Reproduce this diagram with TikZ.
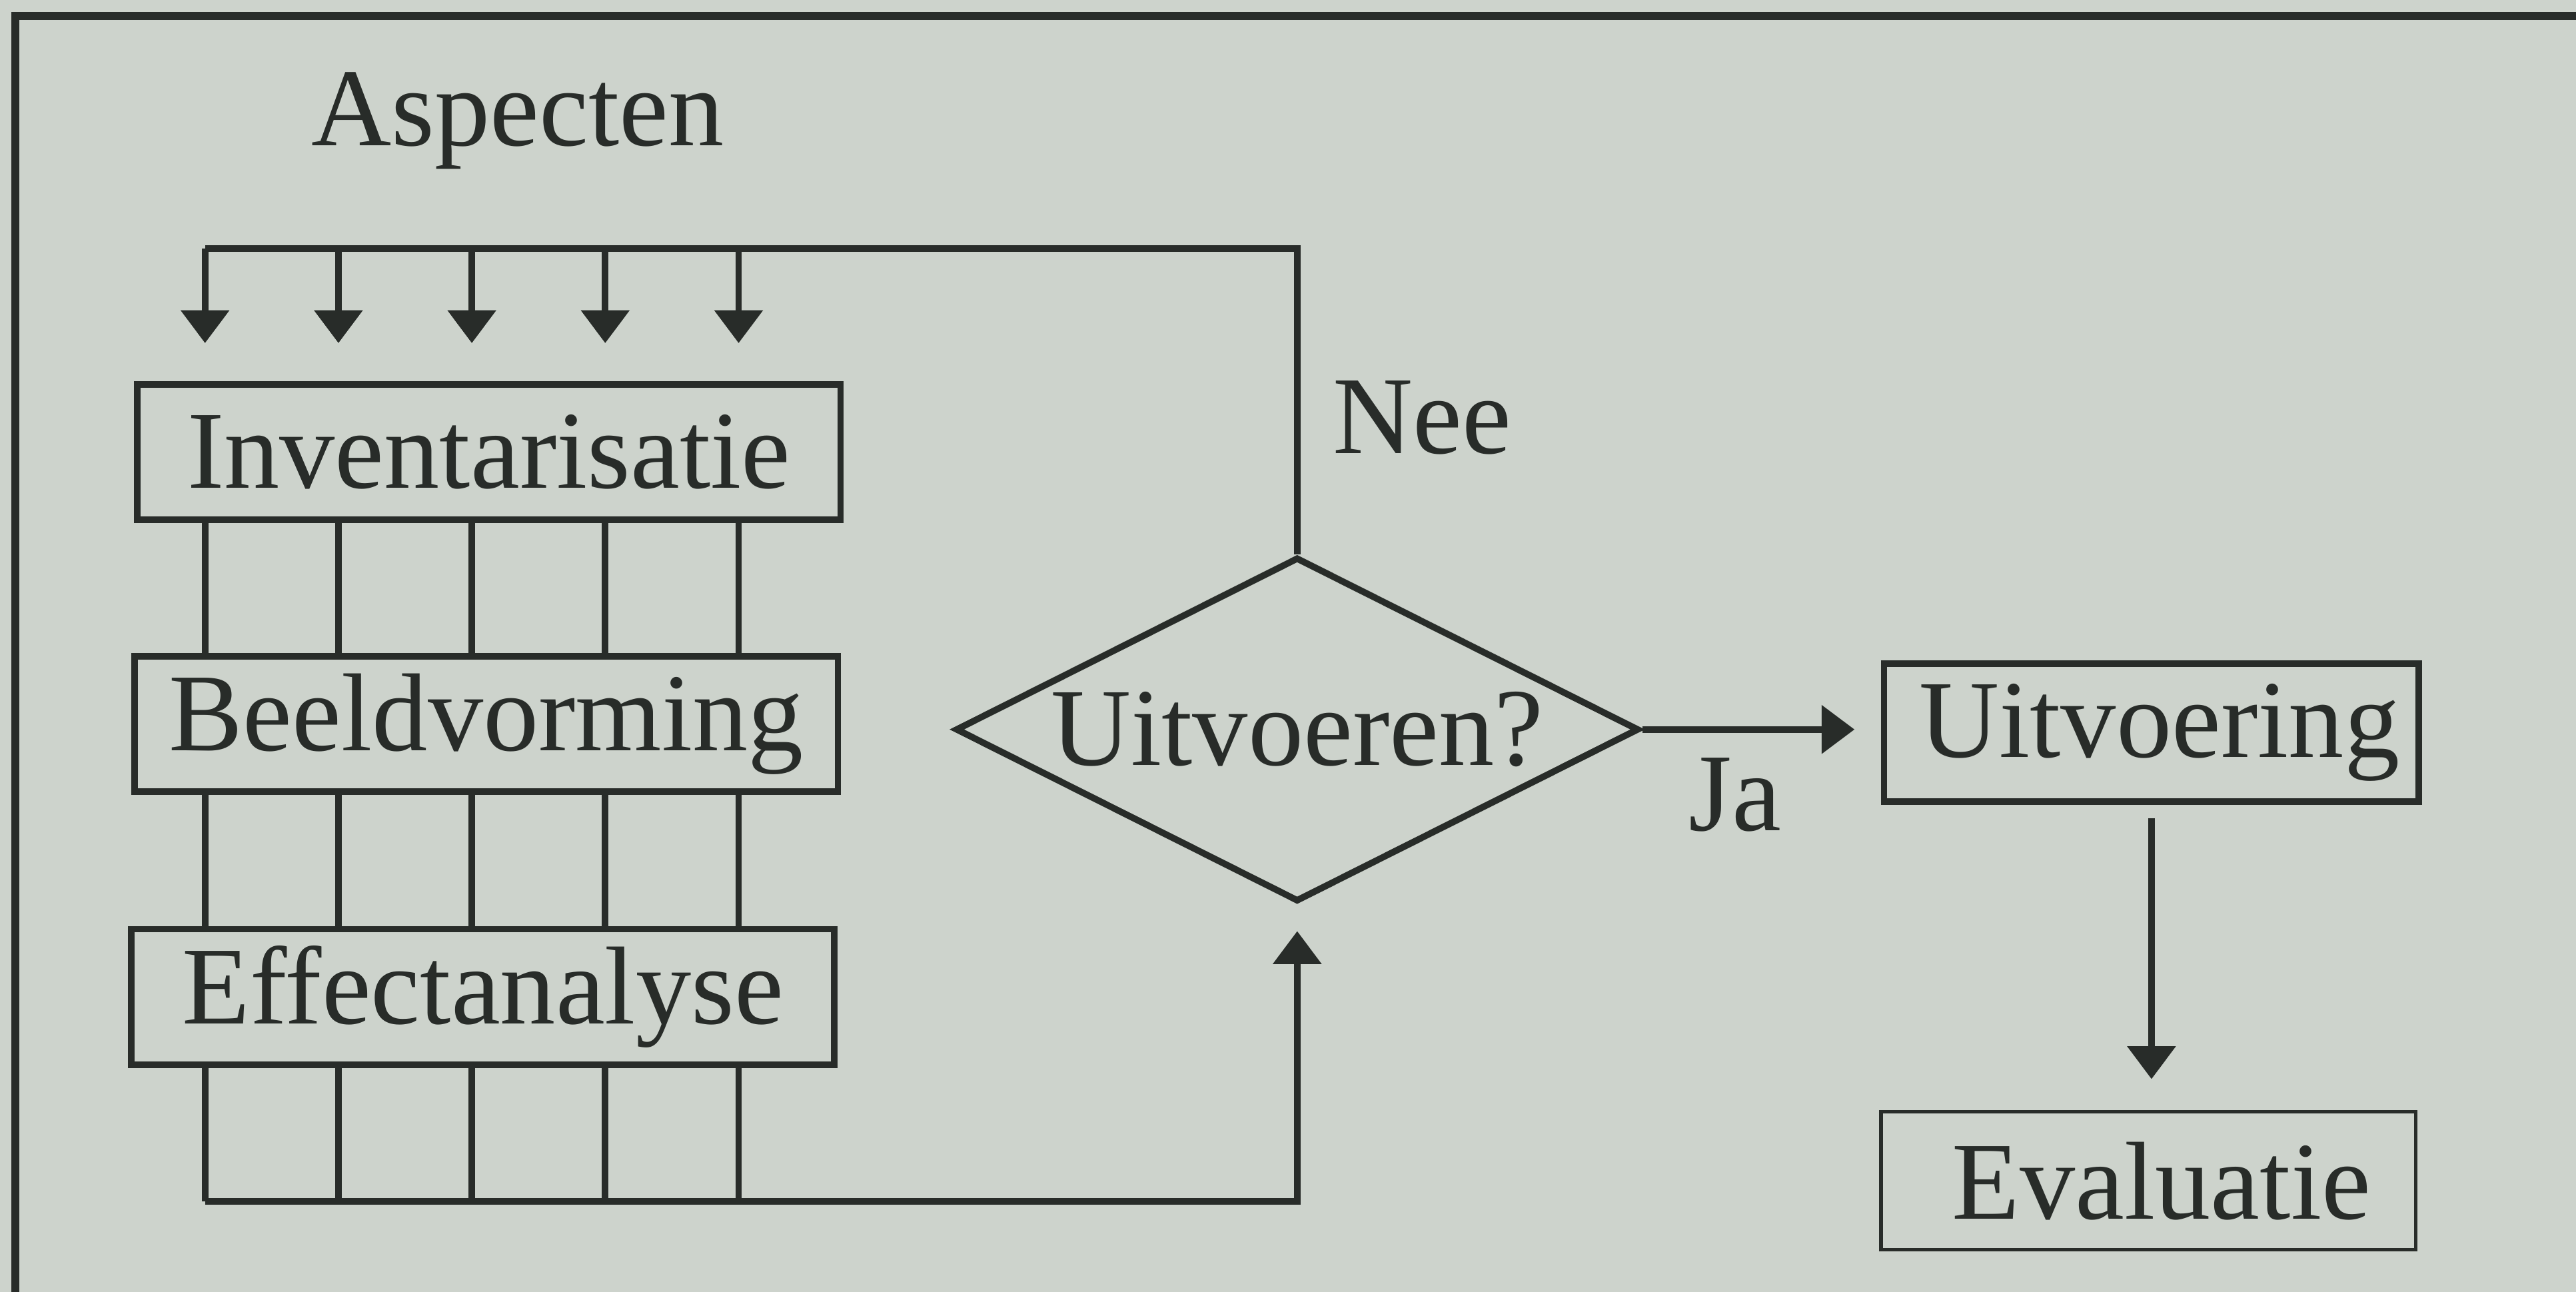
\documentclass[tikz,border=0pt]{standalone}
\usepackage{fontspec}
\setmainfont{Liberation Serif}
\usetikzlibrary{arrows.meta,shapes.geometric}
\definecolor{paper}{RGB}{205,211,204}
\definecolor{ink}{RGB}{40,44,41}

\begin{document}
\begin{tikzpicture}[color=ink,line width=1.4pt,
  txt/.style={font=\fontsize{24}{28}\selectfont},
  box/.style={txt,draw,rectangle,minimum width=5.35cm,minimum height=1.03cm,inner sep=0pt},
  smallbox/.style={txt,draw,rectangle,minimum width=4.07cm,minimum height=1.05cm,inner sep=0pt},
  dia/.style={txt,draw,diamond,aspect=2,minimum width=5.2cm,minimum height=2.62cm,inner sep=0pt},
  arr/.style={-{Triangle[length=0.25cm,width=0.36cm]}}]
\useasboundingbox (0,0) rectangle (19.6,-9.83);
\fill[paper] (0,0) rectangle (19.6,-9.83);
% frame of the page
\draw[line width=1.7pt] (0.117,-9.83)--(0.117,-0.12)--(19.6,-0.12);

\node[txt,anchor=base] (asp) at (3.94,-1.11){Aspecten}  ;
\node[box] (inv) at (3.72,-3.44){Inventarisatie}  ;
\node[box] (beeld) at (3.70,-5.507){Beeldvorming}  ;
\node[box] (eff) at (3.674,-7.585){Effectanalyse}  ;
\node[dia] (dia) at (9.87,-5.55){Uitvoeren?}  ;
\node[smallbox] (uitv) at (16.37,-5.575){\hspace{0.12cm}Uitvoering}  ;
\node[smallbox,line width=0.8pt] (eval) at (16.346,-8.984){\hspace{0.2cm}Evaluatie}  ;
\node[txt,anchor=base west] (nee) at (10.0,-3.45){Nee}  ;
\node[txt,anchor=base west] (ja) at (12.71,-6.32){Ja}  ;

\coordinate (c1) at (1.56,-1.89);
\coordinate (c2) at (2.575,-1.89);
\coordinate (c3) at (3.59,-1.89);
\coordinate (c4) at (4.605,-1.89);
\coordinate (c5) at (5.62,-1.89);
\coordinate (top) at (9.87,-1.89);
\coordinate (bot) at (9.87,-9.14);

% terugkoppeling
\draw (dia.north)--(top)--(c1);
\draw[arr,shorten >=0.29cm] (c1)--(c1|-inv.north);
\draw[arr,shorten >=0.29cm] (c2)--(c2|-inv.north);
\draw[arr,shorten >=0.29cm] (c3)--(c3|-inv.north);
\draw[arr,shorten >=0.29cm] (c4)--(c4|-inv.north);
\draw[arr,shorten >=0.29cm] (c5)--(c5|-inv.north);

\draw (c1|-inv.south)--(c1|-beeld.north) (c1|-beeld.south)--(c1|-eff.north) (c1|-eff.south)--(c1|-bot);
\draw (c2|-inv.south)--(c2|-beeld.north) (c2|-beeld.south)--(c2|-eff.north) (c2|-eff.south)--(c2|-bot);
\draw (c3|-inv.south)--(c3|-beeld.north) (c3|-beeld.south)--(c3|-eff.north) (c3|-eff.south)--(c3|-bot);
\draw (c4|-inv.south)--(c4|-beeld.north) (c4|-beeld.south)--(c4|-eff.north) (c4|-eff.south)--(c4|-bot);
\draw (c5|-inv.south)--(c5|-beeld.north) (c5|-beeld.south)--(c5|-eff.north) (c5|-eff.south)--(c5|-bot);
\draw[arr,shorten >=0.2cm] (c1|-bot)--(bot)--(dia.south);

\draw[arr,shorten >=0.2cm] (dia.east)--(dia.east-|uitv.west);
\draw[arr,shorten <=0.1cm,shorten >=0.235cm] (uitv.south)--(uitv.south|-eval.north);
\end{tikzpicture}
\end{document}
